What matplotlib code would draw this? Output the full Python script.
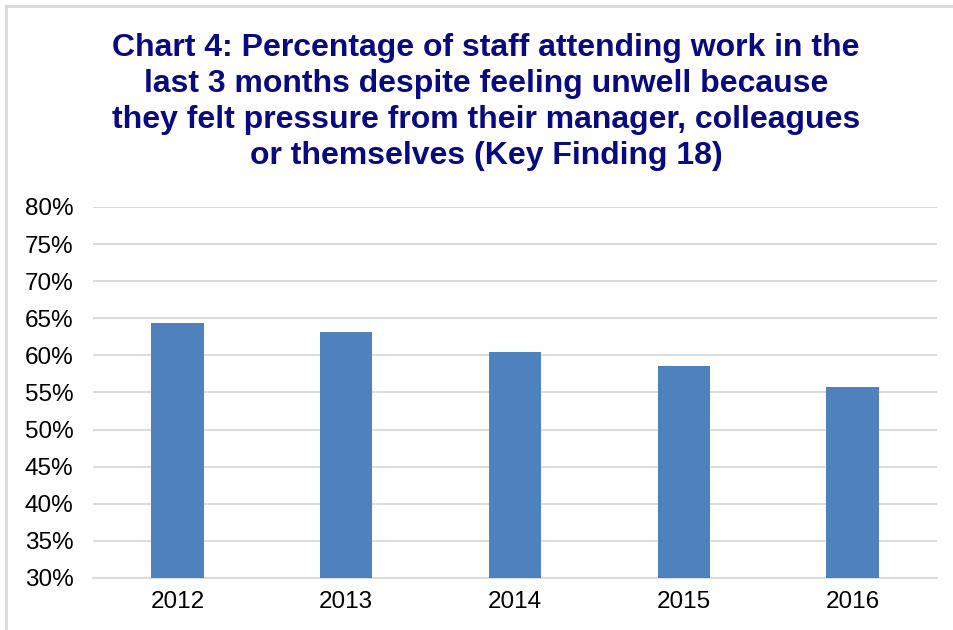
import matplotlib
matplotlib.use("Agg")
import matplotlib.pyplot as plt
from matplotlib.lines import Line2D
from matplotlib.ticker import FuncFormatter, MultipleLocator

years = ["2012", "2013", "2014", "2015", "2016"]
pct_pressure = [64.3, 63.1, 60.5, 58.6, 55.8]

title = ("Chart 4: Percentage of staff attending work in the\n"
         "last 3 months despite feeling unwell because\n"
         "they felt pressure from their manager, colleagues\n"
         "or themselves (Key Finding 18)")

plt.rcParams["font.family"] = ["Liberation Sans", "DejaVu Sans"]

W, H = 954, 630
fig = plt.figure(figsize=(W / 100, H / 100), dpi=100)
ax = fig.add_axes([93 / W, 1 - 578 / H, (937 - 93) / W, (578 - 207) / H])

x = range(len(years))
ax.bar(x, pct_pressure, width=0.31, color="#4F81BD", zorder=3)

ax.set_ylim(30, 80)
ax.set_xlim(-0.5, len(years) - 0.5)
ax.yaxis.set_major_locator(MultipleLocator(5))
ax.yaxis.set_major_formatter(FuncFormatter(lambda v, _: f"{v:.0f}%"))
ax.set_xticks(list(x))
ax.set_xticklabels(years)
ax.grid(axis="y", color="#D9D9D9", linewidth=1.3, zorder=0)
ax.tick_params(axis="both", length=0, labelsize=17.5, colors="black")
ax.tick_params(axis="y", pad=14)
ax.tick_params(axis="x", pad=9)
for side in ["top", "right", "left"]:
    ax.spines[side].set_visible(False)
ax.spines["bottom"].set_color("#D9D9D9")
ax.spines["bottom"].set_linewidth(1.3)

fig.text(486 / W, 1 - 102 / H, title, ha="center", va="center",
         fontsize=23, fontweight="bold", color="#0A0A80", linespacing=1.25)

# light frame around the chart area (top and left edges)
fig.add_artist(Line2D([6.5 / W, 6.5 / W], [0, 1 - 5.5 / H], color="#D9D9D9", lw=2))
fig.add_artist(Line2D([6.5 / W, 1], [1 - 5.5 / H, 1 - 5.5 / H], color="#D9D9D9", lw=2))

fig.savefig("out.png", dpi=100)
